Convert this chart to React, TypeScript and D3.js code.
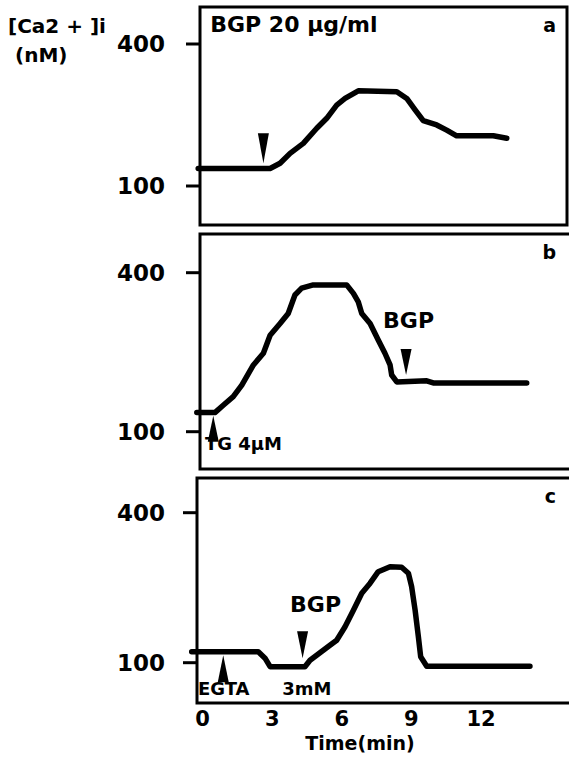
import React from "react";
import * as d3 from "d3";

// time axis (min) and [Ca2+]i ticks (nM)
const timeTicks = [0, 3, 6, 9, 12];
const caTicks = [100, 400];

// panel a : BGP 20 ug/ml
const timeA = [-0.19, 2.91, 3.34, 3.77, 4.34, 4.92, 5.35, 5.78, 6.14, 6.71, 8.37, 8.8, 9.16, 9.51, 10.09, 10.52, 10.95, 12.53, 13.11];
const caA = [137, 137, 148, 169, 190, 222, 243, 271, 285, 301, 299, 285, 261, 238, 229, 218, 206, 206, 201];

// panel b : TG then BGP
const timeB = [-0.25, 0.53, 0.89, 1.32, 1.69, 2.19, 2.62, 2.91, 3.34, 3.69, 3.98, 4.27, 4.77, 6.21, 6.5, 6.71, 6.86, 7.22, 7.57, 7.86, 8.08, 8.15, 8.37, 9.66, 9.94, 13.97];
const caB = [136, 136, 150, 166, 188, 226, 248, 282, 304, 323, 358, 371, 377, 377, 361, 345, 323, 304, 273, 248, 226, 207, 194, 196, 192, 192];

// panel c : EGTA then BGP
const timeC = [-0.47, 2.4, 2.69, 2.91, 4.41, 4.63, 5.06, 5.49, 5.78, 6.14, 6.5, 6.86, 7.22, 7.57, 8.08, 8.58, 8.87, 9.01, 9.16, 9.3, 9.4, 9.66, 14.11];
const caC = [122, 122, 109, 92, 92, 105, 120, 135, 145, 172, 205, 239, 259, 282, 292, 291, 279, 252, 205, 152, 112, 93, 93];

// arrowheads: time, tip value, direction
const arrowsA = [{ t: 2.62, v: 148, dir: "down" }];
const arrowsB = [{ t: 0.46, v: 130, dir: "up" }, { t: 8.77, v: 207, dir: "down" }];
const arrowsC = [{ t: 0.89, v: 115, dir: "up" }, { t: 4.31, v: 109, dir: "down" }];

// annotations: text, time, value
const labelsA = [{ text: "BGP 20 \u03bcg/ml", t: 0.33, v: 425, size: 22 }];
const labelsB = [{ text: "BGP", t: 7.78, v: 296, size: 22 }, { text: "TG 4\u03bcM", t: 0.1, v: 66, size: 18 }];
const labelsC = [
  { text: "BGP", t: 3.77, v: 201, size: 22 },
  { text: "EGTA", t: -0.2, v: 35, size: 18 },
  { text: "3mM", t: 3.43, v: 35, size: 18 },
];

const font = "'DejaVu Sans', sans-serif";

const x = d3.scaleLinear().domain([0, 12]).range([202.6, 481]);

const panels = [
  { letter: "a", time: timeA, ca: caA, arrows: arrowsA, labels: labelsA, box: [200, 7, 567, 225], y: d3.scaleLinear().domain([100, 400]).range([186, 44]), arrowLen: 30 },
  { letter: "b", time: timeB, ca: caB, arrows: arrowsB, labels: labelsB, box: [200, 234, 574, 469], y: d3.scaleLinear().domain([100, 400]).range([431.7, 272.7]), arrowLen: 26 },
  { letter: "c", time: timeC, ca: caC, arrows: arrowsC, labels: labelsC, box: [197, 478, 574, 703], y: d3.scaleLinear().domain([100, 400]).range([662.7, 512.7]), arrowLen: 27 },
];

const Panel = ({ p }) => {
  const [x0, y0, x1, y1] = p.box;
  const line = d3
    .line()
    .x((d) => x(d[0]))
    .y((d) => p.y(d[1]));
  const pts = p.time.map((t, i) => [t, p.ca[i]]);
  return (
    <g>
      <rect x={x0} y={y0} width={x1 - x0} height={y1 - y0} fill="none" stroke="#000" strokeWidth={3} />
      {caTicks.map((v) => (
        <g key={v}>
          <line x1={x0 - 14} x2={x0} y1={p.y(v)} y2={p.y(v)} stroke="#000" strokeWidth={3} />
          <text x={165} y={p.y(v)} dy="0.36em" textAnchor="end" fontFamily={font} fontWeight="bold" fontSize={23}>
            {v}
          </text>
        </g>
      ))}
      <path d={line(pts)} fill="none" stroke="#000" strokeWidth={5.5} strokeLinejoin="round" strokeLinecap="round" />
      {p.arrows.map((a, i) => {
        const tx = x(a.t);
        const ty = p.y(a.v);
        const by = a.dir === "down" ? ty - p.arrowLen : ty + p.arrowLen;
        return <polygon key={i} points={`${tx},${ty} ${tx - 5.5},${by} ${tx + 5.5},${by}`} fill="#000" />;
      })}
      {p.labels.map((l, i) => (
        <text key={i} x={x(l.t)} y={p.y(l.v)} fontFamily={font} fontWeight="bold" fontSize={l.size}>
          {l.text}
        </text>
      ))}
      <text x={556} y={y0 + 25} textAnchor="end" fontFamily={font} fontWeight="bold" fontSize={19}>
        {p.letter}
      </text>
    </g>
  );
};

export default function App() {
  return (
    <svg width={569} height={770} style={{ position: "absolute", left: 0, top: 0, background: "#fff" }}>
      <text x={8} y={33} fontFamily={font} fontWeight="bold" fontSize={20}>
        [Ca2 + ]i
      </text>
      <text x={15} y={62} fontFamily={font} fontWeight="bold" fontSize={20}>
        (nM)
      </text>
      {panels.map((p) => (
        <Panel key={p.letter} p={p} />
      ))}
      {timeTicks.map((t) => (
        <text key={t} x={x(t)} y={726} textAnchor="middle" fontFamily={font} fontWeight="bold" fontSize={21}>
          {t}
        </text>
      ))}
      <text x={360} y={750} textAnchor="middle" fontFamily={font} fontWeight="bold" fontSize={19}>
        Time(min)
      </text>
    </svg>
  );
}
